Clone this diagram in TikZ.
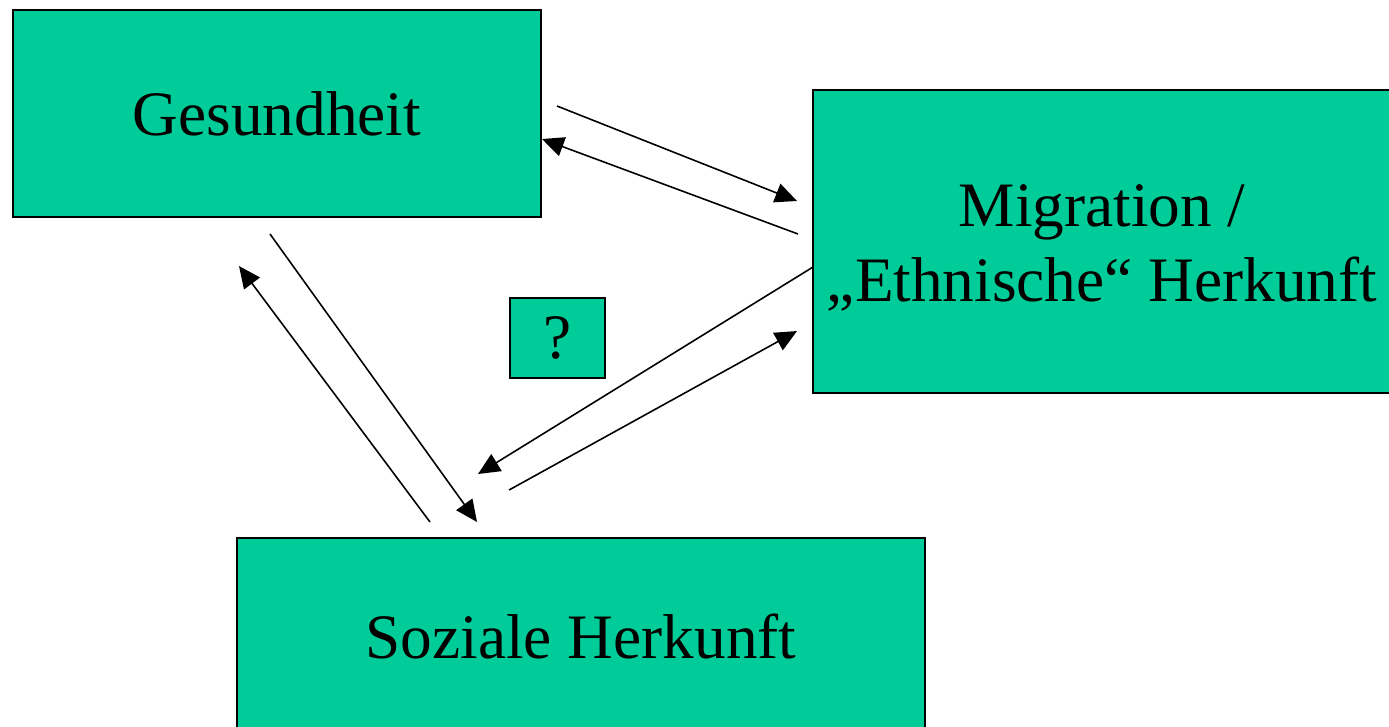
\documentclass[tikz,border=0pt]{standalone}
\usepackage{fontspec}
\setmainfont{Liberation Serif}
\usepackage{tikz}
\usetikzlibrary{arrows.meta}
\definecolor{boxgreen}{RGB}{0,204,153}

\tikzset{
  box/.style={draw=black, line width=0.6pt, fill=boxgreen, inner sep=0pt,
    align=center, font=\fontsize{18}{21.3}\selectfont},
  boxtext/.style={align=center, inner sep=0pt, font=\fontsize{18}{21.3}\selectfont},
  link/.style={line width=0.45pt, ->}
}

\begin{document}
\begin{tikzpicture}[x=0.01cm, y=-0.01cm, >={Triangle[length=6.2pt,width=5.6pt]}]
\useasboundingbox (0,0) rectangle (1389,726);

% Kaesten
\node[box, minimum width=5.28cm, minimum height=2.07cm] (ges) at (277,113.5) {Gesundheit};
\node[box, minimum width=5.80cm, minimum height=3.03cm] (mig) at (1103,241.5) {};
\node[boxtext] (miglabel) at (1102,248) {Migration /\\,,Ethnische`` Herkunft};
\node[box, minimum width=6.88cm, minimum height=2.00cm] (soz) at (581,638) {};
\node[boxtext] (sozlabel) at (581,636) {Soziale Herkunft};
\node[box, minimum width=0.95cm, minimum height=0.80cm] (frage) at (557.5,338) {?};

% Pfeilenden
\coordinate (a1) at (557,106);  \coordinate (a2) at (797,201);
\coordinate (b1) at (798,234);  \coordinate (b2) at (542,139);
\coordinate (c1) at (270,234);  \coordinate (c2) at (477,522);
\coordinate (d1) at (430,522);  \coordinate (d2) at (239,266);
\coordinate (e1) at (813,267);  \coordinate (e2) at (478,474);
\coordinate (f1) at (509,490);  \coordinate (f2) at (797,331);

\draw[link] (a1) -- (a2);
\draw[link] (b1) -- (b2);
\draw[link] (c1) -- (c2);
\draw[link] (d1) -- (d2);
\draw[link] (e1) -- (e2);
\draw[link] (f1) -- (f2);
\end{tikzpicture}
\end{document}
